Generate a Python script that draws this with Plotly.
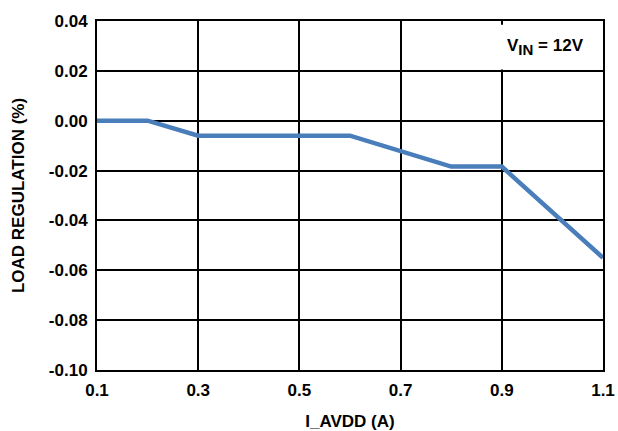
import plotly.graph_objects as go

current_a = [0.1, 0.2, 0.3, 0.6, 0.8, 0.9, 1.1]
load_reg_pct = [0.0, 0.0, -0.006, -0.006, -0.0184, -0.0184, -0.055]
x_ticks = [0.1, 0.3, 0.5, 0.7, 0.9, 1.1]
y_ticks = [0.04, 0.02, 0.00, -0.02, -0.04, -0.06, -0.08, -0.10]

FONT = "Liberation Sans, Arial, sans-serif"
FS = 17

fig = go.Figure()
fig.add_trace(go.Scatter(
    x=current_a, y=load_reg_pct, mode="lines",
    line=dict(color="#4A7EBB", width=4.5),
    showlegend=False, hoverinfo="skip"))

fig.add_shape(type="rect", xref="x", yref="y", x0=0.895, x1=1.095, y0=0.0205, y1=0.0385,
              fillcolor="white", line=dict(width=0), layer="between")
fig.add_annotation(x=0.987, y=0.0295, xref="x", yref="y", showarrow=False,
                   text="<b>V<sub><span style='font-size:15px'>IN</span></sub> = 12V</b>",
                   font=dict(family=FONT, size=FS, color="black"))

fig.update_layout(
    width=618, height=431,
    margin=dict(l=97, r=15, t=21, b=61, autoexpand=False),
    paper_bgcolor="white", plot_bgcolor="white",
    font=dict(family=FONT, size=FS, color="black"),
)
fig.update_xaxes(
    range=[0.1, 1.1], tickvals=x_ticks, ticktext=[f"<b>{v:.1f}</b>" for v in x_ticks],
    showgrid=True, gridcolor="black", gridwidth=2,
    showline=True, linecolor="black", linewidth=2, mirror=True,
    ticks="", zeroline=False, automargin=False, ticklabelstandoff=4,
    title=dict(text="<b>I_AVDD (A)</b>", font=dict(size=FS), standoff=18),
)
fig.update_yaxes(
    range=[-0.10, 0.04], tickvals=y_ticks, ticktext=[f"<b>{v:.2f}</b>" for v in y_ticks],
    showgrid=True, gridcolor="black", gridwidth=2,
    showline=True, linecolor="black", linewidth=2, mirror=True,
    ticks="", zeroline=False, automargin=False, ticklabelstandoff=4,
    title=dict(text="<b>LOAD REGULATION (%)</b>", font=dict(size=FS), standoff=20),
)

fig.write_html("out.html", config={"displayModeBar": False},
               post_script="document.body.style.margin='0';document.body.style.overflow='hidden';")
